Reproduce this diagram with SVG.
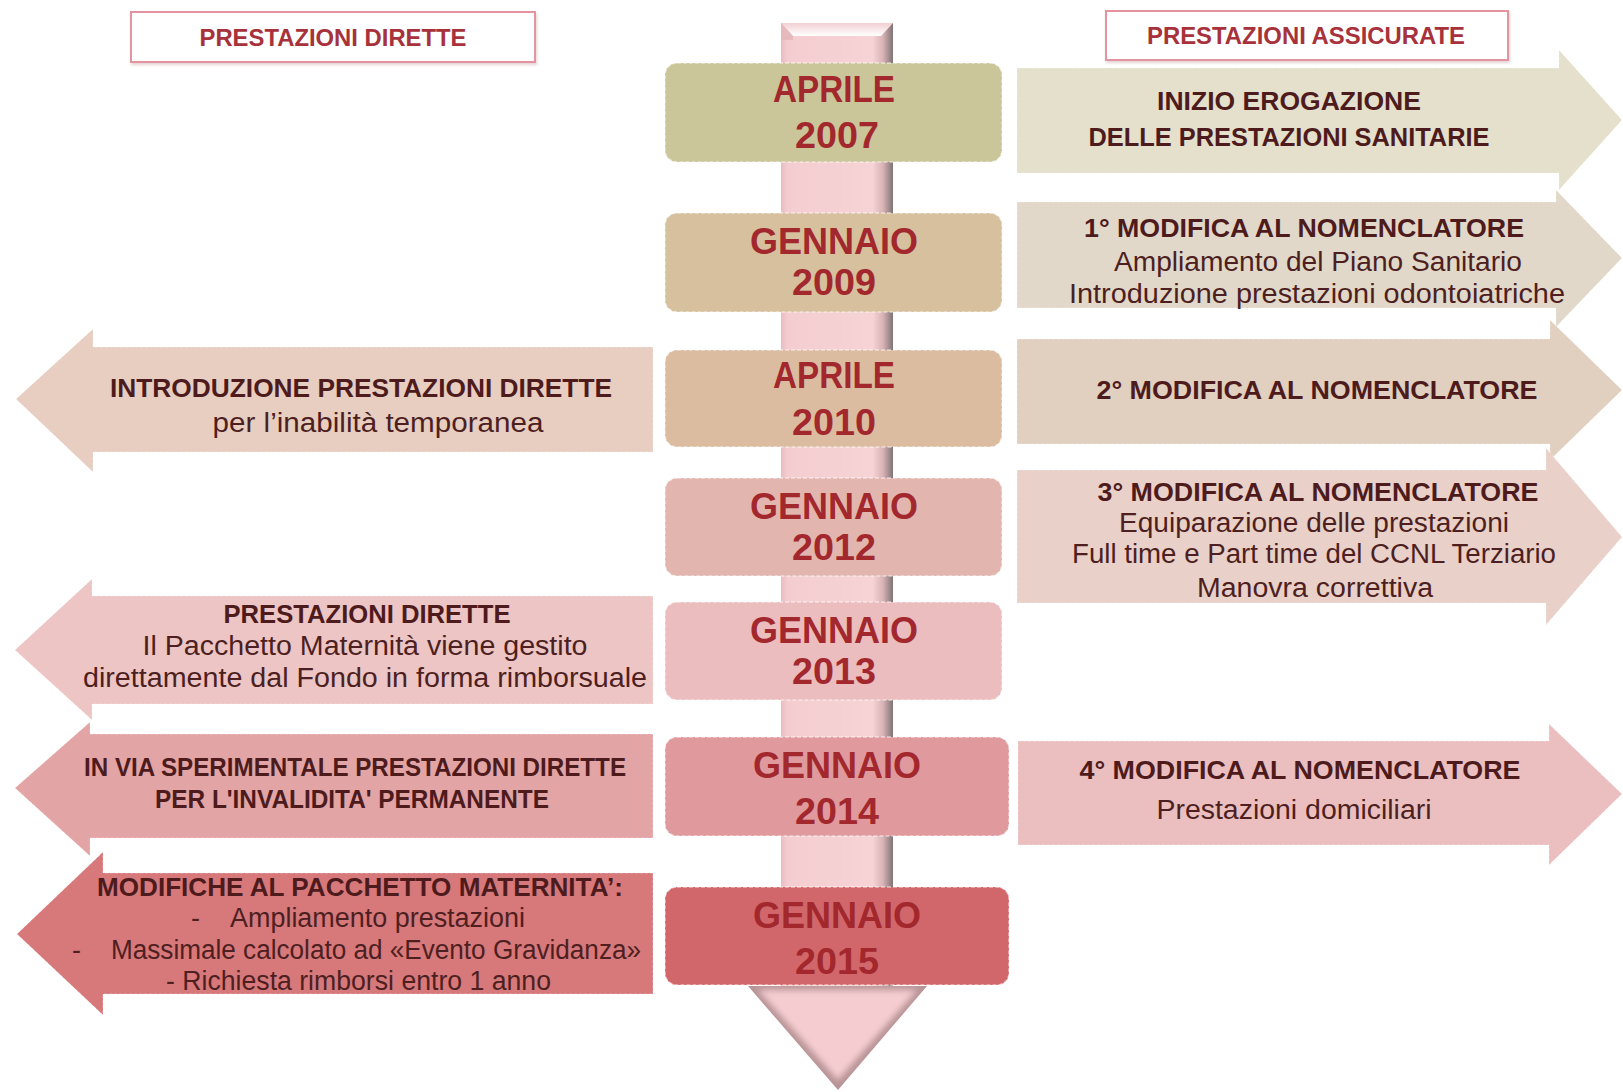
<svg xmlns="http://www.w3.org/2000/svg" width="1623" height="1092" viewBox="0 0 1623 1092">
<defs>
<style>
.hdr{fill:#fff;stroke:#e3949f;stroke-width:2}
.hdrt{font-family:"Liberation Sans",Arial,sans-serif;font-weight:bold;font-size:23px;fill:#a8323b;text-anchor:middle}
.box{stroke:#ffffff;stroke-opacity:.55;stroke-width:1.5;stroke-dasharray:4 2}
.dt{font-family:"Liberation Sans",Arial,sans-serif;font-weight:bold;font-size:36px;fill:#a2282d;text-anchor:middle}
.arr{stroke:#ffffff;stroke-opacity:.35;stroke-width:1;stroke-dasharray:3 2}
.tb{font-family:"Liberation Sans",Arial,sans-serif;font-weight:bold;font-size:26px;fill:#4e1b1d;text-anchor:middle}
.tr{font-family:"Liberation Sans",Arial,sans-serif;font-size:27px;fill:#4e1f21;text-anchor:middle}
.trs{font-family:"Liberation Sans",Arial,sans-serif;font-size:27px;fill:#4e1f21}
</style>
<linearGradient id="barG" x1="0" y1="0" x2="1" y2="0">
<stop offset="0" stop-color="#e9bcc0"/>
<stop offset="0.06" stop-color="#f4cdd0"/>
<stop offset="0.82" stop-color="#f6d3d5"/>
<stop offset="0.91" stop-color="#d9b3b6"/>
<stop offset="1" stop-color="#7f7374"/>
</linearGradient>
<linearGradient id="topG" x1="0" y1="0" x2="0" y2="1">
<stop offset="0" stop-color="#f2cfd2"/>
<stop offset="1" stop-color="#ffffff"/>
</linearGradient>
<filter id="soft" x="-10%" y="-10%" width="120%" height="120%">
<feGaussianBlur stdDeviation="3"/>
</filter>
<filter id="shadow" x="-5%" y="-20%" width="110%" height="150%">
<feDropShadow dx="1" dy="2" stdDeviation="1.5" flood-color="#b08080" flood-opacity=".35"/>
</filter>
</defs>
<rect width="1623" height="1092" fill="#ffffff"/>

<g id="headers">
<g id="hdr-dirette">
<rect class="hdr" x="131" y="12" width="404" height="50" filter="url(#shadow)"/>
<text class="hdrt" x="333" y="46" textLength="267" lengthAdjust="spacingAndGlyphs">PRESTAZIONI DIRETTE</text>
</g>
<g id="hdr-assicurate">
<rect class="hdr" x="1106" y="11" width="402" height="49" filter="url(#shadow)"/>
<text class="hdrt" x="1306" y="44" textLength="318" lengthAdjust="spacingAndGlyphs">PRESTAZIONI ASSICURATE</text>
</g>
</g>

<g id="connectors">
<g id="timeline">
<rect x="781" y="23" width="112" height="965" fill="url(#barG)"/>
<polygon points="781,23 893,23 881,36 793,36" fill="url(#topG)"/>
<polygon points="781,23 793,36 793,40 781,40" fill="#e6b9bd"/>
<polygon points="748,986 927,986 838,1090" fill="#b89497"/>
<polygon points="758,990 917,990 838,1080" fill="#f5cdd0" filter="url(#soft)"/>
</g>
</g>

<g id="right-arrows">
<g id="r1">
<polygon class="arr" points="1017,68 1559,68 1559,50 1622,120 1559,190 1559,173 1017,173" fill="#e4e0cb"/>
<text class="tb" x="1289" y="110" textLength="264" lengthAdjust="spacingAndGlyphs">INIZIO EROGAZIONE</text>
<text class="tb" x="1289" y="146" textLength="401" lengthAdjust="spacingAndGlyphs">DELLE PRESTAZIONI SANITARIE</text>
</g>
<g id="r2">
<polygon class="arr" points="1017,202 1556,202 1556,190 1622,258 1556,327 1556,308 1017,308" fill="#e2d8c9"/>
<text class="tb" x="1304" y="237" textLength="440" lengthAdjust="spacingAndGlyphs">1° MODIFICA AL NOMENCLATORE</text>
<text class="tr" x="1318" y="271" textLength="408" lengthAdjust="spacingAndGlyphs">Ampliamento del Piano Sanitario</text>
<text class="tr" x="1317" y="303" textLength="496" lengthAdjust="spacingAndGlyphs">Introduzione prestazioni odontoiatriche</text>
</g>
<g id="r3">
<polygon class="arr" points="1017,339 1550,339 1550,320 1622,390 1550,460 1550,444 1017,444" fill="#e1cfbf"/>
<text class="tb" x="1317" y="399" textLength="441" lengthAdjust="spacingAndGlyphs">2° MODIFICA AL NOMENCLATORE</text>
</g>
<g id="r4">
<polygon class="arr" points="1017,470 1546,470 1546,448 1622,537 1546,625 1546,603 1017,603" fill="#e9d0c8"/>
<text class="tb" x="1318" y="501" textLength="441" lengthAdjust="spacingAndGlyphs">3° MODIFICA AL NOMENCLATORE</text>
<text class="tr" x="1314" y="532" textLength="390" lengthAdjust="spacingAndGlyphs">Equiparazione delle prestazioni</text>
<text class="tr" x="1314" y="563" textLength="484" lengthAdjust="spacingAndGlyphs">Full time e Part time del CCNL Terziario</text>
<text class="tr" x="1315" y="597" textLength="236" lengthAdjust="spacingAndGlyphs">Manovra correttiva</text>
</g>
<g id="r5">
<polygon class="arr" points="1018,741 1549,741 1549,724 1622,794 1549,865 1549,845 1018,845" fill="#ebbfc0"/>
<text class="tb" x="1300" y="779" textLength="441" lengthAdjust="spacingAndGlyphs">4° MODIFICA AL NOMENCLATORE</text>
<text class="tr" x="1294" y="819" textLength="275" lengthAdjust="spacingAndGlyphs">Prestazioni domiciliari</text>
</g>
</g>

<g id="left-arrows">
<g id="l1">
<polygon class="arr" points="653,347 93,347 93,329 16,399 93,472 93,452 653,452" fill="#e7cec1"/>
<text class="tb" x="361" y="397" textLength="502" lengthAdjust="spacingAndGlyphs">INTRODUZIONE PRESTAZIONI DIRETTE</text>
<text class="tr" x="378" y="432" textLength="331" lengthAdjust="spacingAndGlyphs">per l’inabilità temporanea</text>
</g>
<g id="l2">
<polygon class="arr" points="653,596 92,596 92,579 15,650 92,720 92,704 653,704" fill="#ecc5c4"/>
<text class="tb" x="367" y="623" textLength="287" lengthAdjust="spacingAndGlyphs">PRESTAZIONI DIRETTE</text>
<text class="tr" x="365" y="655" textLength="445" lengthAdjust="spacingAndGlyphs">Il Pacchetto Maternità viene gestito</text>
<text class="tr" x="365" y="687" textLength="564" lengthAdjust="spacingAndGlyphs">direttamente dal Fondo in forma rimborsuale</text>
</g>
<g id="l3">
<polygon class="arr" points="653,734 90,734 90,722 15,788 90,856 90,838 653,838" fill="#e3a4a5"/>
<text class="tb" x="355" y="776" textLength="542" lengthAdjust="spacingAndGlyphs">IN VIA SPERIMENTALE PRESTAZIONI DIRETTE</text>
<text class="tb" x="352" y="808" textLength="394" lengthAdjust="spacingAndGlyphs">PER L'INVALIDITA' PERMANENTE</text>
</g>
<g id="l4">
<polygon class="arr" points="653,873 103,873 103,852 17,934 103,1015 103,994 653,994" fill="#d7787b"/>
<text class="tb" x="360" y="896" textLength="526" lengthAdjust="spacingAndGlyphs">MODIFICHE AL PACCHETTO MATERNITA’:</text>
<text class="trs" x="191" y="927">-</text>
<text class="trs" x="230" y="927" textLength="295" lengthAdjust="spacingAndGlyphs">Ampliamento prestazioni</text>
<text class="trs" x="72" y="959">-</text>
<text class="trs" x="111" y="959" textLength="530" lengthAdjust="spacingAndGlyphs">Massimale calcolato ad «Evento Gravidanza»</text>
<text class="trs" x="166" y="990" textLength="385" lengthAdjust="spacingAndGlyphs">- Richiesta rimborsi entro 1 anno</text>
</g>
</g>

<g id="dates">
<g id="d2007">
<rect class="box" x="665" y="63" width="337" height="99" rx="12" fill="#cbc59a"/>
<text class="dt" x="834" y="102" textLength="122" lengthAdjust="spacingAndGlyphs">APRILE</text>
<text class="dt" x="837" y="148" textLength="84" lengthAdjust="spacingAndGlyphs">2007</text>
</g>
<g id="d2009">
<rect class="box" x="665" y="213" width="337" height="99" rx="12" fill="#d6c09d"/>
<text class="dt" x="834" y="254" textLength="168" lengthAdjust="spacingAndGlyphs">GENNAIO</text>
<text class="dt" x="834" y="295" textLength="84" lengthAdjust="spacingAndGlyphs">2009</text>
</g>
<g id="d2010">
<rect class="box" x="665" y="350" width="337" height="97" rx="12" fill="#dcbca1"/>
<text class="dt" x="834" y="388" textLength="122" lengthAdjust="spacingAndGlyphs">APRILE</text>
<text class="dt" x="834" y="435" textLength="84" lengthAdjust="spacingAndGlyphs">2010</text>
</g>
<g id="d2012">
<rect class="box" x="665" y="478" width="337" height="98" rx="12" fill="#e2b6af"/>
<text class="dt" x="834" y="519" textLength="168" lengthAdjust="spacingAndGlyphs">GENNAIO</text>
<text class="dt" x="834" y="560" textLength="84" lengthAdjust="spacingAndGlyphs">2012</text>
</g>
<g id="d2013">
<rect class="box" x="665" y="602" width="337" height="98" rx="12" fill="#ebbdbe"/>
<text class="dt" x="834" y="643" textLength="168" lengthAdjust="spacingAndGlyphs">GENNAIO</text>
<text class="dt" x="834" y="684" textLength="84" lengthAdjust="spacingAndGlyphs">2013</text>
</g>
<g id="d2014">
<rect class="box" x="665" y="737" width="344" height="99" rx="12" fill="#e09a9d"/>
<text class="dt" x="837" y="778" textLength="168" lengthAdjust="spacingAndGlyphs">GENNAIO</text>
<text class="dt" x="837" y="824" textLength="84" lengthAdjust="spacingAndGlyphs">2014</text>
</g>
<g id="d2015">
<rect class="box" x="665" y="887" width="344" height="98" rx="12" fill="#d1676a"/>
<text class="dt" x="837" y="928" textLength="168" lengthAdjust="spacingAndGlyphs" fill="#a33a3e">GENNAIO</text>
<text class="dt" x="837" y="974" textLength="84" lengthAdjust="spacingAndGlyphs" fill="#a33a3e">2015</text>
</g>
</g>
</svg>
